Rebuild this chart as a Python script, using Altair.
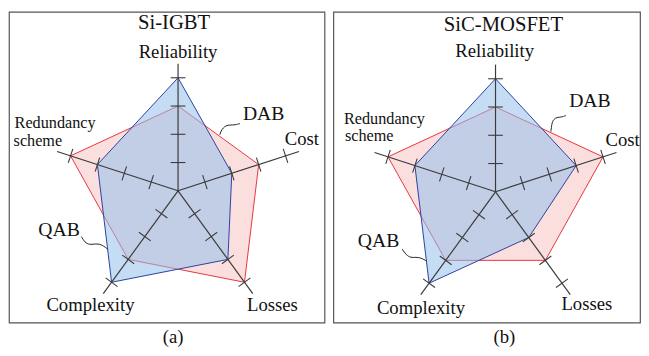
import math
import altair as alt
import pandas as pd

# ---------------- data ----------------
categories = ["Reliability", "Cost", "Losses", "Complexity", "Redundancy scheme"]
angles_deg = [90, 18, -54, -126, 162]

si_dab = [3, 3, 4, 3, 4]
si_qab = [4, 2, 3, 4, 3]
sic_dab = [3, 4, 3, 3, 4]
sic_qab = [4, 3, 2, 4, 3]

tick_levels = [1, 2, 3, 4]
axis_len = 4.5
tick_half = 0.26

# label texts and positions (in axis units, relative to the radar centre)
left_texts = ["Si-IGBT", "Reliability", "Cost", "Redundancy", "scheme", "Complexity", "Losses", "DAB", "QAB"]
left_tx = [-0.14, 0.0, 4.38, -4.35, -4.96, -3.10, 3.34, 3.03, -4.21]
left_ty = [5.93, 4.90, 1.84, 2.39, 1.76, -4.03, -4.03, 2.71, -1.39]
right_texts = ["SiC-MOSFET", "Reliability", "Cost", "Redundancy", "scheme", "Complexity", "Losses", "DAB", "QAB"]
right_tx = [0.28, -0.03, 4.50, -3.93, -4.47, -2.64, 3.23, 3.34, -4.14]
right_ty = [5.91, 4.97, 1.84, 2.59, 1.96, -4.10, -3.97, 3.20, -1.74]
text_sizes = [21, 19, 19, 16.5, 16.5, 19, 19, 20, 20]

# leader squiggles (axis units)
left_dab_lx = [2.19, 2.02, 1.84, 1.70, 1.60, 1.51, 1.48]
left_dab_ly = [2.38, 2.33, 2.33, 2.31, 2.23, 2.10, 1.98]
left_qab_lx = [-3.42, -3.30, -3.13, -2.96, -2.78, -2.64, -2.49]
left_qab_ly = [-1.62, -1.83, -1.91, -1.88, -1.88, -1.95, -2.06]
right_dab_lx = [2.49, 2.34, 2.17, 2.05, 1.99, 1.96]
right_dab_ly = [2.70, 2.64, 2.64, 2.56, 2.41, 2.13]
right_qab_lx = [-3.30, -3.17, -2.99, -2.82, -2.64, -2.53, -2.43]
right_qab_ly = [-2.03, -2.23, -2.34, -2.31, -2.34, -2.40, -2.46]

FONT = "Liberation Serif"
RED_FILL = "#fbdfdf"
RED_LINE = "#e8343c"
BLUE_FILL = "#94bfeb"
BLUE_LINE = "#2d3f9f"
AXIS_COL = "#3a3a3a"


def poly_df(vals):
    rows = []
    for i, (v, a) in enumerate(zip(vals, angles_deg)):
        t = math.radians(a)
        rows.append({"i": i, "x": v * math.cos(t), "y": v * math.sin(t)})
    return pd.DataFrame(rows)


def axes_df():
    rows = []
    for a in angles_deg:
        t = math.radians(a)
        rows.append({"x": 0.0, "y": 0.0, "x2": axis_len * math.cos(t), "y2": axis_len * math.sin(t)})
    return pd.DataFrame(rows)


def ticks_df():
    rows = []
    for a in angles_deg:
        t = math.radians(a)
        px, py = -math.sin(t), math.cos(t)
        for r in tick_levels:
            cx, cy = r * math.cos(t), r * math.sin(t)
            rows.append({"x": cx - tick_half * px, "y": cy - tick_half * py,
                         "x2": cx + tick_half * px, "y2": cy + tick_half * py})
    return pd.DataFrame(rows)


def leader_df(lx1, ly1, lx2, ly2):
    rows = []
    for s, (xs, ys) in enumerate([(lx1, ly1), (lx2, ly2)]):
        for i, (x, y) in enumerate(zip(xs, ys)):
            rows.append({"s": s, "i": i, "x": x, "y": y})
    return pd.DataFrame(rows)


def panel(dab, qab, texts, tx, ty, leaders, xdom, ydom, w, h, caption, cdx):
    xs = alt.Scale(domain=xdom, nice=False, zero=False)
    ys = alt.Scale(domain=ydom, nice=False, zero=False)
    X = alt.X("x:Q", scale=xs, axis=None)
    Y = alt.Y("y:Q", scale=ys, axis=None)

    red = alt.Chart(poly_df(dab)).mark_line(
        interpolate="linear-closed", fill=RED_FILL, stroke=RED_LINE, strokeWidth=1
    ).encode(x=X, y=Y, order="i:Q")
    blue = alt.Chart(poly_df(qab)).mark_line(
        interpolate="linear-closed", fill=BLUE_FILL, fillOpacity=0.55,
        stroke=BLUE_LINE, strokeWidth=1
    ).encode(x=X, y=Y, order="i:Q")
    ax = alt.Chart(axes_df()).mark_rule(color=AXIS_COL, strokeWidth=1.2).encode(
        x=X, y=Y, x2="x2:Q", y2="y2:Q")
    tk = alt.Chart(ticks_df()).mark_rule(color=AXIS_COL, strokeWidth=1.1).encode(
        x=X, y=Y, x2="x2:Q", y2="y2:Q")
    ld = alt.Chart(leaders).mark_line(
        interpolate="basis", color="#222", strokeWidth=1
    ).encode(x=X, y=Y, order="i:Q", detail="s:N")
    tdf = pd.DataFrame({"t": texts, "x": tx, "y": ty, "fs": text_sizes})
    txt = alt.Chart(tdf).mark_text(
        font=FONT, color="#111", align="center", baseline="middle"
    ).encode(x=X, y=Y, text="t:N", size=alt.Size("fs:Q", scale=None, legend=None))

    return alt.layer(red, blue, ax, tk, ld, txt).properties(
        width=w, height=h,
        title=alt.TitleParams(caption, orient="bottom", font=FONT, fontSize=19,
                              fontWeight="normal", color="#111", offset=6, dx=cdx),
    )


U = 28.75
left = panel(si_dab, si_qab, left_texts, left_tx, left_ty,
             leader_df(left_dab_lx, left_dab_ly, left_qab_lx, left_qab_ly),
             [-172 / U, 149 / U], [-134 / U, 182 / U], 321, 316, "(a)", 6.5)
right = panel(sic_dab, sic_qab, right_texts, right_tx, right_ty,
              leader_df(right_dab_lx, right_dab_ly, right_qab_lx, right_qab_ly),
              [-165 / U, 147 / U], [-133 / U, 183 / U], 312, 316, "(b)", 18)

chart = alt.hconcat(left, right, spacing=7).properties(padding=0).configure_view(
    stroke="#555", strokeWidth=1.2
)

chart.save("out.html", embed_options={"renderer": "svg", "actions": False})
